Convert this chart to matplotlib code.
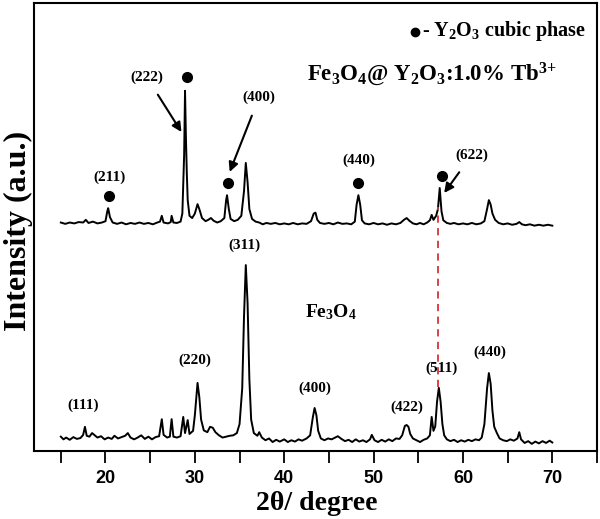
import numpy as np
import matplotlib
matplotlib.use("Agg")
from matplotlib import pyplot as plt
from matplotlib.ticker import MultipleLocator

plt.rcParams['font.family'] = ['Liberation Serif', 'DejaVu Serif']
plt.rcParams['font.weight'] = 'bold'
plt.rcParams['mathtext.fontset'] = 'custom'
plt.rcParams['mathtext.rm'] = 'Liberation Serif:bold'
plt.rcParams['mathtext.bf'] = 'Liberation Serif:bold'
plt.rcParams['mathtext.it'] = 'Liberation Serif:bold'

# --------------------------
# DATA (intensity in a.u.)
# --------------------------

# Fe3O4 (lower pattern)
fe_x = [15.0, 15.3, 15.6, 16.0, 16.4, 16.8, 17.2, 17.5, 17.7, 17.9, 18.2, 18.5,
        18.8, 19.1, 19.5, 19.9, 20.3, 20.7, 21.0, 21.4, 21.8, 22.2, 22.5, 22.8,
        23.2, 23.6, 24.0, 24.4, 24.8, 25.2, 25.6, 26.0, 26.3, 26.5, 26.9, 27.2,
        27.4, 27.6, 28.0, 28.4, 28.7, 28.9, 29.2, 29.4, 29.8, 30.0, 30.3, 30.5,
        30.7, 31.0, 31.4, 31.7, 32.0, 32.3, 32.7, 33.1, 33.5, 33.9, 34.3, 34.7,
        35.0, 35.3, 35.5, 35.7, 35.9, 36.1, 36.3, 36.6, 37.0, 37.2, 37.5, 37.9,
        38.3, 38.7, 39.1, 39.5, 40.0, 40.4, 40.8, 41.2, 41.6, 42.0, 42.5, 42.9,
        43.2, 43.4, 43.6, 43.8, 44.1, 44.5, 44.9, 45.3, 45.7, 46.0, 46.4, 46.8,
        47.2, 47.6, 48.0, 48.4, 48.8, 49.2, 49.6, 49.8, 50.1, 50.5, 50.9, 51.3,
        51.7, 52.1, 52.5, 52.9, 53.2, 53.5, 53.7, 53.9, 54.1, 54.4, 54.8, 55.2,
        55.6, 56.0, 56.3, 56.5, 56.7, 56.9, 57.1, 57.3, 57.5, 57.7, 57.9, 58.2,
        58.6, 59.0, 59.4, 59.8, 60.2, 60.6, 61.0, 61.4, 61.8, 62.1, 62.4, 62.7,
        62.9, 63.1, 63.3, 63.5, 63.8, 64.1, 64.5, 64.9, 65.3, 65.7, 66.1, 66.3,
        66.5, 66.9, 67.3, 67.7, 68.1, 68.5, 68.9, 69.3, 69.7, 70.0]
fe_y = [3.2, 2.6, 3.0, 2.5, 3.1, 2.7, 2.9, 3.6, 5.4, 3.4, 3.2, 4.0,
        3.5, 3.0, 3.3, 2.6, 3.0, 2.7, 3.4, 2.8, 3.1, 3.4, 4.0, 3.0,
        2.6, 3.0, 3.5, 2.7, 3.2, 2.6, 3.1, 3.3, 7.1, 3.6, 3.0, 3.2,
        7.1, 3.2, 3.0, 3.3, 7.6, 4.0, 6.9, 3.8, 4.5, 8.0, 15.2, 12.0,
        7.0, 4.6, 4.2, 5.4, 5.2, 4.2, 3.5, 3.0, 3.2, 3.4, 3.5, 4.0,
        6.0, 14.0, 30.0, 41.5, 33.0, 16.0, 7.0, 4.0, 3.4, 4.2, 3.0, 2.4,
        2.8, 2.0, 2.5, 2.1, 2.6, 2.0, 2.4, 2.1, 2.6, 2.3, 2.8, 3.5,
        7.5, 9.6, 8.0, 4.5, 2.8, 2.4, 2.8, 2.6, 3.0, 3.3, 2.7, 2.2,
        2.5, 2.0, 2.6, 2.1, 2.4, 2.0, 2.6, 3.6, 2.4, 2.0, 2.5, 2.1,
        2.6, 2.2, 2.8, 2.7, 3.5, 5.6, 5.8, 5.4, 3.8, 2.8, 2.4, 2.0,
        2.5, 2.8, 3.5, 7.6, 4.5, 5.5, 11.0, 14.1, 11.0, 6.0, 3.5, 2.6,
        2.2, 2.5, 2.0, 2.4, 2.1, 2.5, 2.2, 2.6, 2.4, 3.0, 6.0, 14.0,
        17.4, 15.0, 9.0, 5.4, 4.0, 2.8, 2.4, 2.2, 2.6, 2.3, 2.8, 4.2,
        2.6, 1.8, 2.2, 1.6, 2.1, 1.7, 2.2, 1.8, 2.3, 1.9]

# Fe3O4@Y2O3:1.0% Tb3+ (upper pattern)
ft_x = [15.0, 15.5, 16.0, 16.5, 17.0, 17.5, 17.8, 18.1, 18.6, 19.1, 19.6, 20.0,
        20.2, 20.3, 20.5, 20.8, 21.3, 21.8, 22.3, 22.8, 23.3, 23.8, 24.3, 24.8,
        25.3, 25.8, 26.1, 26.3, 26.5, 27.0, 27.3, 27.4, 27.6, 28.0, 28.4, 28.6,
        28.8, 28.9, 29.0, 29.1, 29.2, 29.4, 29.7, 30.0, 30.3, 30.5, 30.8, 31.2,
        31.5, 31.8, 32.1, 32.5, 32.9, 33.3, 33.5, 33.6, 33.8, 34.0, 34.4, 34.8,
        35.2, 35.5, 35.7, 35.9, 36.1, 36.4, 36.8, 37.2, 37.6, 38.0, 38.5, 39.0,
        39.5, 40.0, 40.5, 41.0, 41.5, 42.0, 42.5, 43.0, 43.3, 43.5, 43.7, 44.0,
        44.5, 45.0, 45.5, 46.0, 46.5, 47.0, 47.5, 47.9, 48.1, 48.3, 48.5, 48.7,
        49.0, 49.5, 50.0, 50.5, 51.0, 51.5, 52.0, 52.5, 53.0, 53.4, 53.7, 54.0,
        54.4, 54.8, 55.2, 55.6, 56.0, 56.3, 56.5, 56.7, 57.0, 57.2, 57.4, 57.6,
        57.8, 58.2, 58.6, 59.0, 59.5, 60.0, 60.5, 61.0, 61.5, 62.0, 62.4, 62.7,
        62.9, 63.1, 63.3, 63.6, 64.0, 64.5, 65.0, 65.5, 66.0, 66.3, 66.6, 67.0,
        67.5, 68.0, 68.5, 69.0, 69.5, 70.0]
ft_y = [51.0, 50.7, 51.0, 50.8, 51.1, 51.0, 51.6, 50.9, 51.2, 50.8, 51.0, 51.3,
        53.5, 54.2, 52.2, 51.0, 50.7, 51.0, 50.6, 50.9, 50.7, 51.0, 50.7, 50.9,
        50.6, 51.0, 51.2, 52.5, 51.0, 50.8, 51.1, 52.5, 51.0, 50.9, 51.2, 53.0,
        66.0, 80.4, 70.0, 62.0, 56.0, 52.5, 52.0, 53.0, 55.1, 54.0, 52.0, 51.3,
        51.6, 52.0, 51.4, 51.0, 51.3, 52.0, 56.0, 57.1, 54.0, 51.8, 51.3, 51.6,
        52.5, 58.0, 64.3, 60.0, 54.0, 51.8, 51.2, 51.0, 50.6, 50.9, 50.7, 50.9,
        50.6, 50.8, 50.6, 50.9, 50.6, 50.8, 50.7, 51.3, 53.0, 53.2, 51.6, 50.9,
        50.7, 50.9, 50.6, 51.0, 50.7, 50.8, 50.6, 51.2, 55.0, 57.1, 55.0, 51.5,
        50.8, 50.6, 50.9, 50.6, 50.8, 50.5, 50.8, 50.6, 50.9, 51.6, 52.0, 51.4,
        50.8, 50.6, 50.9, 50.6, 51.0, 51.5, 52.7, 51.6, 52.5, 54.0, 58.7, 53.5,
        51.5, 50.9, 50.7, 50.9, 50.6, 50.8, 50.6, 50.9, 50.6, 50.8, 51.3, 54.0,
        56.0, 55.0, 53.0, 51.6, 50.9, 50.6, 50.8, 50.5, 50.7, 51.1, 50.6, 50.4,
        50.6, 50.3, 50.5, 50.3, 50.5, 50.3]

# Y2O3 cubic phase markers (2theta, height of dot)
dot_x = [20.4, 29.1, 33.7, 48.2, 57.6]
dot_y = [56.9, 83.5, 59.8, 59.8, 61.4]

# hkl labels for Fe3O4
fe_hkl = ["(111)", "(220)", "(311)", "(400)", "(422)", "(511)", "(440)"]
fe_hkl_x = [17.5, 30.0, 35.6, 43.4, 53.7, 57.6, 63.0]
fe_hkl_y = [10.3, 20.3, 46.0, 14.1, 9.8, 18.5, 22.1]

fig = plt.figure(figsize=(6.0, 5.19), dpi=100)
ax = fig.add_axes([34 / 600, 1 - 451 / 519, 563 / 600, 448 / 519])

ax.plot(fe_x, fe_y, color="black", lw=1.4)
ax.plot(ft_x, ft_y, color="black", lw=1.4)
ax.plot(dot_x, dot_y, "o", color="black", ms=7)

# dashed guide between the (511) and (622) peaks
ax.plot([57.25, 57.25], [14.3, 54.5], color="#d8323a", lw=1.3,
        dashes=(4, 3))

lab = dict(ha="center", va="center", fontsize=11, fontweight="bold")
for t, x, y in zip(fe_hkl, fe_hkl_x, fe_hkl_y):
    ax.text(x, y, t, **lab)

arrow = dict(arrowstyle="-|>", color="black", lw=1.5,
             shrinkA=7, shrinkB=0, mutation_scale=14)
ax.text(20.5, 61.2, "(211)", **lab)
ax.text(48.4, 65.0, "(440)", **lab)
ax.annotate("(222)", xy=(28.5, 71.2), xytext=(24.6, 83.5),
            arrowprops=arrow, **lab)
ax.annotate("(400)", xy=(33.9, 62.3), xytext=(37.2, 79.0),
            arrowprops=arrow, **lab)
ax.annotate("(622)", xy=(57.9, 57.6), xytext=(61.0, 66.1),
            arrowprops=arrow, **lab)

ax.plot([54.6], [93.5], "o", color="black", ms=6)
ax.text(55.4, 93.8, "- Y$_2$O$_3$ cubic phase", ha="left", va="center",
        fontsize=14.5, fontweight="bold")
ax.text(42.5, 84.0, "Fe$_3$O$_4$@ Y$_2$O$_3$:1.0% Tb$^{3\\!+}$", ha="left",
        va="center", fontsize=16.5, fontweight="bold")
ax.text(42.3, 31.0, "Fe$_3$O$_4$", ha="left", va="center", fontsize=14,
        fontweight="bold")

ax.set_xlim(12, 75)
ax.set_ylim(0, 100)
ax.set_yticks([])
ax.xaxis.set_major_locator(MultipleLocator(10))
ax.xaxis.set_minor_locator(MultipleLocator(5))
ax.set_xticks(np.arange(20, 71, 10))
ax.tick_params(axis="x", which="both", direction="out", length=8.5,
               width=1.3, pad=5)
for t in ax.get_xticklabels():
    t.set_fontfamily("Liberation Sans")
    t.set_fontweight("bold")
    t.set_fontsize(13)
for s in ax.spines.values():
    s.set_linewidth(1.5)

fig.text(317 / 600, 1 - 510 / 519, "2θ/ degree", ha="center",
         va="baseline", fontsize=20, fontweight="bold")
fig.text(18 / 600, 1 - 231 / 519, "Intensity (a.u.)", ha="center",
         va="center", rotation=90, fontsize=23, fontweight="bold")

fig.savefig("out.png", dpi=100)
